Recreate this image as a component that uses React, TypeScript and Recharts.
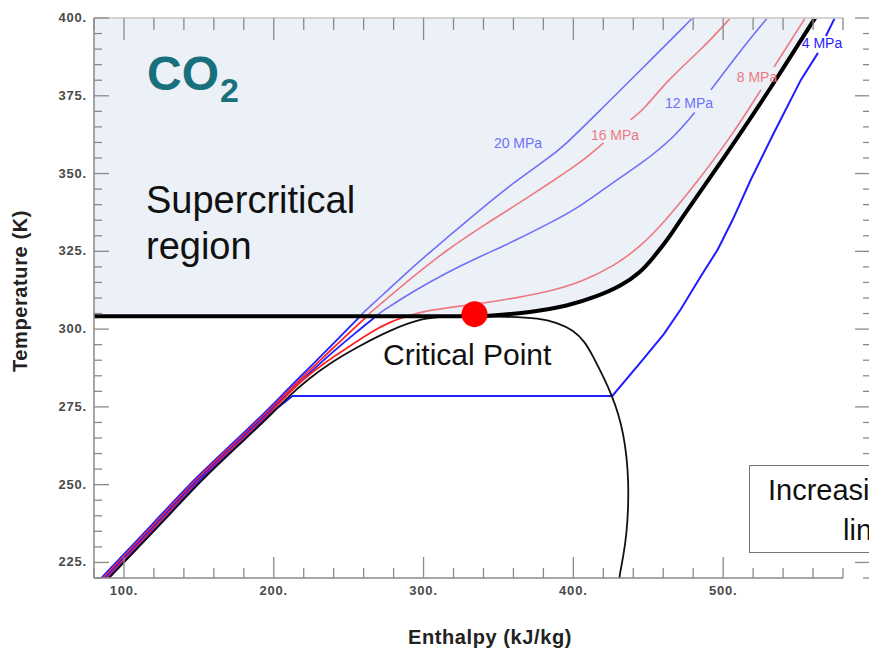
import React from "react";
import {
  ComposedChart,
  Line,
  Area,
  XAxis,
  YAxis,
  ReferenceDot,
} from "recharts";

// [enthalpy kJ/kg, temperature K]; null T = gap left for an inline label
type Pt = [number, number | null];

const TC = 304.1;
const T_MAX = 400;
const criticalPoint = { h: 334, T: 304.8 };

const enthalpyTicks = [
  80, 100, 120, 140, 160, 180, 200, 220, 240, 260, 280, 300, 320, 340, 360,
  380, 400, 420, 440, 460, 480, 500, 520, 540, 560, 580,
];
const temperatureTicks = [
  220, 225, 230, 235, 240, 245, 250, 255, 260, 265, 270, 275, 280, 285, 290,
  295, 300, 305, 310, 315, 320, 325, 330, 335, 340, 345, 350, 355, 360, 365,
  370, 375, 380, 385, 390, 395, 400,
];

// saturation dome
const dome: Pt[] = [
  [90, 220], [127, 238.6], [153.8, 252.5], [180.5, 264.4], [201.3, 274],
  [210.8, 278.8], [222.2, 283.6], [237.5, 289.1], [255.6, 294.2],
  [277.6, 299.7], [299.6, 303.6], [314, 304], [334, 304.1], [355, 304],
  [377.7, 303.5], [388.9, 302.1], [400, 299.7], [407.8, 295.9],
  [413.3, 291.1], [420, 284.7], [425.6, 278.8], [430, 272.9], [433.3, 266.5],
  [435.6, 259], [436.7, 251.5], [436.7, 242.9], [435.6, 234.4],
  [433.3, 226.8], [431.1, 221.5], [430.8, 220],
];

// supercritical boundary: T = Tc, then the critical isobar
const boundary: Pt[] = [
  [80, 304.1], [334, 304.1], [342.7, 304.2], [371.4, 305.4], [396.2, 307.4],
  [416.2, 310.6], [431.6, 313.8], [445, 318.3], [453, 322.8], [463, 328.8],
  [471.7, 335.3], [491.8, 349], [511.8, 363.1], [536.6, 381.1],
  [551.9, 392.9], [560.6, 399.4], [561.4, 400],
];

const p4: Pt[] = [
  [89.7, 220], [126.5, 238.6], [153.2, 252.5], [179.9, 264.4], [200.7, 274],
  [212.5, 278.5], [426, 278.5], [445, 289.4], [460.4, 298.4], [471.7, 306.4],
  [485.1, 317], [496.4, 325.6], [506.5, 335.3], [518.5, 348.1],
  [533.9, 363.1], [551.9, 380.1], [563.3, 388.8], [566, null],
  [568.6, 394.2], [573.9, 399.4], [574.5, 400],
];

const p8: Pt[] = [
  [88.5, 220], [125.3, 238.6], [152, 252.5], [178.7, 264.4], [199.5, 274],
  [209, 278.8], [218.2, 283.3], [234, 289.3], [250.2, 294.3],
  [265.6, 299.3], [278, 302.4], [288.6, 304.1], [299.9, 305.8],
  [324.7, 307.4], [349.4, 309], [382.8, 311.9], [404.9, 315.1],
  [427, 320.2], [445, 326.6], [460.4, 334.3], [480.4, 345.8],
  [507.1, 363.1], [525.2, 376.9], [530, null], [534, 384.3], [554, 399.4],
  [554.8, 400],
];

const p12: Pt[] = [
  [87.3, 220], [124.1, 238.6], [150.8, 252.5], [177.5, 264.4], [198.3, 274],
  [208.6, 278.8], [219, 283.7], [229.5, 288.4], [240, 292.9], [254, 298.6],
  [268.2, 304.1], [271.2, 305.4], [293.2, 312.2],
  [315.9, 318.3], [338, 323.4], [360.1, 328.2], [382.8, 333.7],
  [404.9, 339.4], [427, 347.4], [445, 353], [467, 361.5], [481, 369.6],
  [486, null], [491.8, 376.9], [511.8, 389.7], [528.5, 399.4], [529.5, 400],
];

const p16: Pt[] = [
  [86.1, 220], [122.9, 238.6], [149.6, 252.5], [176.3, 264.4], [197.1, 274],
  [207.5, 279], [218, 284], [229, 289.1], [240, 294.1], [251, 299.1],
  [262.3, 304.1], [264.5, 305.4], [271.2, 308], [293.2, 317], [316, 325.6],
  [338, 332.7], [360.1, 339.4], [382.8, 346.5], [404.9, 353.5],
  [420.2, 359.9], [430, null], [438.2, 367.3], [446.9, 370.5],
  [463, 380.1], [485.1, 389.7], [503.8, 399.4], [504.8, 400],
];

const p20: Pt[] = [
  [84.8, 220], [121.6, 238.6], [148.3, 252.5], [175, 264.4], [195.8, 274],
  [206.4, 279.2], [217, 284.4], [227.5, 289.4], [238, 294.5], [248, 299.4],
  [257.6, 304.1], [259.8, 305.4], [271.2, 310.3], [293.2, 320.2],
  [316, 329.5], [338, 338.5], [360.1, 347.1], [382, 354.5], [393.5, 358.7],
  [418.2, 370.5], [445, 383.3], [478.4, 399.4], [479.5, 400],
];

const toRows = (pts: Pt[]) => pts.map(([h, T]) => ({ h, T }));

// below Tc the isobars are drawn vivid, above it (inside the shaded region) faded
const splitAtTc = (pts: Pt[]) => {
  const k = pts.findIndex(([, T]) => T !== null && T >= TC);
  return [toRows(pts.slice(0, k + 1)), toRows(pts.slice(k))];
};

const shadeRows = boundary.map(([h, T]) => ({ h, band: [T, T_MAX] }));

const BLUE = "#1e1eff";
const RED = "#ff2222";
const BLUE_FADED = "#6e71f8";
const RED_FADED = "#ee7980";
const AXIS = "#8a8a8a";
const FONT = "'Liberation Sans', Arial, sans-serif";

const isobars = [
  { id: "p20", pts: p20, color: BLUE, faded: BLUE_FADED },
  { id: "p16", pts: p16, color: RED, faded: RED_FADED },
  { id: "p12", pts: p12, color: BLUE, faded: BLUE_FADED },
  { id: "p8", pts: p8, color: RED, faded: RED_FADED },
];

const tickText = {
  fontFamily: FONT,
  fontSize: 13,
  fontWeight: "bold" as const,
  letterSpacing: 0.8,
  fill: "#4a4a4a",
};

const LeftTick = ({ x, y, payload }: any) => {
  const major = payload.value % 25 === 0;
  return (
    <g>
      <line x1={x} x2={x + (major ? 15 : 8)} y1={y} y2={y} stroke={AXIS} strokeWidth={1.3} />
      {major && (
        <text x={x - 7} y={y + 4} textAnchor="end" {...tickText}>
          {payload.value}.
        </text>
      )}
    </g>
  );
};

const RightTick = ({ x, y, payload }: any) => {
  const major = payload.value % 25 === 0;
  return (
    <line x1={x + (major ? 12 : 20)} x2={x + 26} y1={y} y2={y} stroke={AXIS} strokeWidth={1.3} />
  );
};

const BottomTick = ({ x, y, payload }: any) => {
  const major = payload.value % 100 === 0;
  return (
    <g>
      <line x1={x} x2={x} y1={y} y2={y - (major ? 21 : 10)} stroke={AXIS} strokeWidth={1.3} />
      {major && (
        <text x={x} y={y + 17} textAnchor="middle" {...tickText}>
          {payload.value}.
        </text>
      )}
    </g>
  );
};

const TopTick = ({ x, y, payload }: any) => {
  const major = payload.value % 100 === 0;
  return (
    <line x1={x} x2={x} y1={y} y2={y + (major ? 22 : 12)} stroke={AXIS} strokeWidth={1.3} />
  );
};

export default function App() {
  return (
    <div style={{ position: "relative", width: 869, height: 650, overflow: "hidden", fontFamily: FONT }}>
      <style>{"body{margin:0}"}</style>
      <ComposedChart width={869} height={650} margin={{ top: 17, right: 0, bottom: 0, left: 0 }}>
        <XAxis
          dataKey="h"
          type="number"
          domain={[80, 580]}
          ticks={enthalpyTicks}
          interval={0}
          allowDataOverflow
          height={72}
          tickLine={false}
          tickSize={0}
          tickMargin={0}
          tick={(p: any) => <BottomTick {...p} />}
          axisLine={{ stroke: AXIS, strokeWidth: 1.5 }}
        />
        <XAxis
          xAxisId="top"
          orientation="top"
          dataKey="h"
          type="number"
          domain={[80, 580]}
          ticks={enthalpyTicks}
          interval={0}
          allowDataOverflow
          height={1}
          tickLine={false}
          tickSize={0}
          tickMargin={0}
          tick={(p: any) => <TopTick {...p} />}
          axisLine={{ stroke: "#d2d2d2", strokeWidth: 2 }}
        />
        <YAxis
          type="number"
          domain={[220, 400]}
          ticks={temperatureTicks}
          interval={0}
          allowDataOverflow
          width={94}
          tickLine={false}
          tickSize={0}
          tickMargin={0}
          tick={(p: any) => <LeftTick {...p} />}
          axisLine={{ stroke: AXIS, strokeWidth: 1.5 }}
        />
        <YAxis
          yAxisId="right"
          orientation="right"
          type="number"
          domain={[220, 400]}
          ticks={temperatureTicks}
          interval={0}
          allowDataOverflow
          width={26}
          tickLine={false}
          tickSize={0}
          tickMargin={0}
          tick={(p: any) => <RightTick {...p} />}
          axisLine={false}
        />

        <Area
          data={shadeRows}
          dataKey="band"
          type="basis"
          fill="#ecf0f7"
          fillOpacity={1}
          stroke="none"
          isAnimationActive={false}
        />

        {isobars.map(({ id, pts, color, faded }) => {
          const [liquid, sup] = splitAtTc(pts);
          return [
            <Line
              key={id + "-liq"}
              data={liquid}
              dataKey="T"
              type="basis"
              stroke={color}
              strokeWidth={1.8}
              dot={false}
              activeDot={false}
              isAnimationActive={false}
            />,
            <Line
              key={id + "-sup"}
              data={sup}
              dataKey="T"
              type="basis"
              stroke={faded}
              strokeWidth={1.6}
              dot={false}
              activeDot={false}
              isAnimationActive={false}
            />,
          ];
        })}

        <Line
          data={toRows(p4)}
          dataKey="T"
          type="linear"
          stroke={BLUE}
          strokeWidth={2}
          dot={false}
          activeDot={false}
          isAnimationActive={false}
        />
        <Line
          data={toRows(dome)}
          dataKey="T"
          type="basis"
          stroke="#111"
          strokeWidth={1.8}
          dot={false}
          activeDot={false}
          isAnimationActive={false}
        />
        <Line
          data={toRows(boundary)}
          dataKey="T"
          type="basis"
          stroke="#000"
          strokeWidth={4}
          dot={false}
          activeDot={false}
          isAnimationActive={false}
        />
        <ReferenceDot x={criticalPoint.h} y={criticalPoint.T} r={13} fill="#ff0000" stroke="none" />
      </ComposedChart>

      <svg
        width={869}
        height={650}
        style={{ position: "absolute", left: 0, top: 0, pointerEvents: "none" }}
      >
        <text x={147} y={90} fontSize={48} fontWeight="bold" fill="#17707c">CO</text>
        <text x={220} y={102} fontSize={34} fontWeight="bold" fill="#17707c">2</text>
        <text x={146} y={213} fontSize={38} fill="#111">Supercritical</text>
        <text x={146} y={259} fontSize={38} fill="#111">region</text>
        <text x={383} y={365} fontSize={30} fill="#111">Critical Point</text>

        <g fontSize={14} textAnchor="middle">
          <text x={518} y={148} fill={BLUE_FADED}>20 MPa</text>
          <text x={615} y={140} fill={RED_FADED}>16 MPa</text>
          <text x={689} y={108} fill={BLUE_FADED}>12 MPa</text>
          <text x={757} y={82} fill={RED_FADED}>8 MPa</text>
          <text x={822} y={48} fill={BLUE}>4 MPa</text>
        </g>

        <rect x={749.5} y={465.5} width={220} height={87} fill="#fff" stroke="#777" strokeWidth={1} />
        <text x={768} y={500} fontSize={29} fill="#111">Increasing pressure</text>
        <text x={843} y={540} fontSize={29} fill="#111">lines</text>

        <text
          x={27}
          y={291}
          transform="rotate(-90 27 291)"
          textAnchor="middle"
          fontSize={20}
          fontWeight="bold"
          letterSpacing={0.6}
          fill="#222"
        >
          Temperature (K)
        </text>
        <text
          x={490}
          y={644}
          textAnchor="middle"
          fontSize={20}
          fontWeight="bold"
          letterSpacing={0.6}
          fill="#222"
        >
          Enthalpy (kJ/kg)
        </text>
      </svg>
    </div>
  );
}
